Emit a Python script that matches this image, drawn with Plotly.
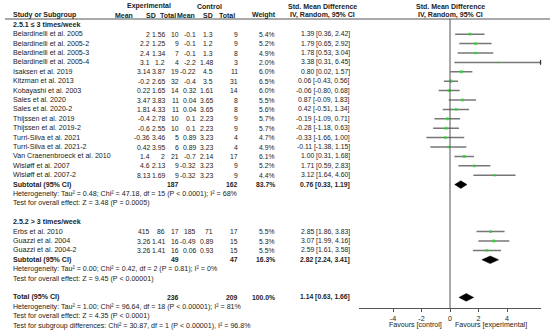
import plotly.graph_objects as go

W, H = 550, 336

# ---------------- data ----------------
g1_names = ["Belardinelli et al. 2005", "Belardinelli et al. 2005-2", "Belardinelli et al. 2005-3",
            "Belardinelli et al. 2005-4", "Isaksen et al. 2019", "Kitzman et al. 2013",
            "Kobayashi et al. 2003", "Sales et al. 2020", "Sales et al. 2020-2", "Thijssen et al. 2019",
            "Thijssen et al. 2019-2", "Turri-Silva et al. 2021", "Turri-Silva et al. 2021-2",
            "Van Craenenbroeck et al. 2010", "Wisløff et al. 2007", "Wisløff et al. 2007-2"]
g1_exp_mean = ["2", "2.2", "2.4", "3.1", "3.14", "-0.2", "0.22", "3.47", "1.81", "-0.4", "-0.6", "-0.36", "0.42", "1.4", "4.6", "8.13"]
g1_exp_sd = ["1.56", "1.25", "1.34", "1.2", "3.87", "2.65", "1.65", "3.83", "4.33", "2.78", "2.55", "3.46", "3.95", "2", "2.13", "1.69"]
g1_exp_n = [10, 9, 7, 4, 19, 32, 14, 11, 11, 10, 10, 5, 6, 21, 9, 9]
g1_ctl_mean = ["-0.1", "-0.1", "-0.1", "-2.2", "-0.22", "-0.4", "0.32", "0.04", "0.04", "0.1", "0.1", "0.89", "0.89", "-0.7", "-0.32", "-0.32"]
g1_ctl_sd = ["1.3", "1.2", "1.3", "1.48", "4.5", "3.5", "1.61", "3.65", "3.65", "2.23", "2.23", "3.23", "3.23", "2.14", "3.23", "3.23"]
g1_ctl_n = [9, 9, 8, 3, 11, 31, 14, 8, 8, 9, 9, 4, 4, 17, 9, 9]
g1_weight = [5.4, 5.2, 4.9, 2.0, 6.0, 6.5, 6.0, 5.5, 5.6, 5.7, 5.7, 4.7, 4.9, 6.1, 5.2, 4.4]
g1_smd = [1.39, 1.79, 1.78, 3.38, 0.80, 0.06, -0.06, 0.87, 0.42, -0.19, -0.28, -0.33, -0.11, 1.00, 1.71, 3.12]
g1_lo = [0.36, 0.65, 0.53, 0.31, 0.02, -0.43, -0.80, -0.09, -0.51, -1.09, -1.18, -1.66, -1.38, 0.31, 0.59, 1.64]
g1_hi = [2.42, 2.92, 3.04, 6.45, 1.57, 0.56, 0.68, 1.83, 1.34, 0.71, 0.63, 1.00, 1.15, 1.68, 2.83, 4.60]
g1_sub = dict(en=187, cn=162, w=83.7, smd=0.76, lo=0.33, hi=1.19)

g2_names = ["Erbs et al. 2010", "Guazzi et al. 2004", "Guazzi et al. 2004-2"]
g2_exp_mean = ["415", "3.26", "3.26"]
g2_exp_sd = ["86", "1.41", "1.41"]
g2_exp_n = [17, 16, 16]
g2_ctl_mean = ["185", "-0.49", "0.06"]
g2_ctl_sd = ["71", "0.89", "0.93"]
g2_ctl_n = [17, 15, 15]
g2_weight = [5.5, 5.3, 5.5]
g2_smd = [2.85, 3.07, 2.59]
g2_lo = [1.86, 1.99, 1.61]
g2_hi = [3.83, 4.16, 3.58]
g2_sub = dict(en=49, cn=47, w=16.3, smd=2.82, lo=2.24, hi=3.41)

total = dict(en=236, cn=209, w=100.0, smd=1.14, lo=0.63, hi=1.66)

g1_label = "2.5.1 ≤ 3 times/week"
g2_label = "2.5.2 > 3 times/week"
g1_het = ["Heterogeneity: Tau² = 0.48; Chi² = 47.18, df = 15 (P < 0.0001); I² = 68%",
          "Test for overall effect: Z = 3.48 (P = 0.0005)"]
g2_het = ["Heterogeneity: Tau² = 0.00; Chi² = 0.42, df = 2 (P = 0.81); I² = 0%",
          "Test for overall effect: Z = 9.45 (P < 0.00001)"]
tot_het = ["Heterogeneity: Tau² = 1.00; Chi² = 96.64, df = 18 (P < 0.00001); I² = 81%",
           "Test for overall effect: Z = 4.35 (P < 0.0001)",
           "Test for subgroup differences: Chi² = 30.87, df = 1 (P < 0.00001), I² = 96.8%"]

col_headers = ["Mean", "SD", "Total", "Mean", "SD", "Total", "Weight"]
tick_vals = [-4, -2, 0, 2, 4]
tick_text = ["-4", "-2", "0", "2", "4"]
XMIN, XMAX = -6.4, 6.4

# ---------------- layout helpers ----------------
ROW0, DY = 6.0, 9.4
def ry(k):
    return ROW0 + k * DY

FONT = "Liberation Sans, Arial, sans-serif"
FS = 7.1       # running text
FSN = 6.8      # numeric cells
FSH = 7.0      # bold headers
TXT = "#222222"
X_NAME = 11
C = dict(em=152, esd=167, en=181, cm=198, csd=215, cn=240, w=277, ci=352)
HDR_X = [135, 158, 178, 197, 215, 237, 278]

ann = []
def txt(x, y, s, anchor="left", bold=False, size=FS):
    ann.append(dict(x=x / W, y=y, xref="paper", yref="y",
                    text=f"<b>{s}</b>" if bold else s, showarrow=False,
                    xanchor=anchor, yanchor="middle",
                    font=dict(size=size, family=FONT, color=TXT)))

def fmt_ci(s, l, h):
    return f"{s:.2f} [{l:.2f}, {h:.2f}]"

# headers
txt(149, ry(0), "Experimental", "center", True, FSH)
txt(209, ry(0), "Control", "center", True, FSH)
txt(322, ry(0), "Std. Mean Difference", "center", True, FSH)
txt(450, ry(0), "Std. Mean Difference", "center", True, FSH)
txt(X_NAME, ry(1), "Study or Subgroup", "left", True, FSH)
for hx, lab in zip(HDR_X, col_headers):
    txt(hx, ry(1), lab, "right", True, FSH)
txt(322, ry(1), "IV, Random, 95% CI", "center", True, FSH)
txt(450, ry(1), "IV, Random, 95% CI", "center", True, FSH)

ci_x, ci_y, pt_x, pt_y, pt_s, arr_x, arr_y = [], [], [], [], [], [], []
diamonds = []

def study_rows(k0, names, em, esd, en, cm, csd, cn, w, smd, lo, hi):
    for i in range(len(names)):
        y = ry(k0 + i)
        txt(X_NAME, y, names[i])
        txt(C["em"], y, em[i], "right", size=FSN)
        txt(C["esd"], y, esd[i], "right", size=FSN)
        txt(C["en"], y, str(en[i]), "right", size=FSN)
        txt(C["cm"], y, cm[i], "right", size=FSN)
        txt(C["csd"], y, csd[i], "right", size=FSN)
        txt(C["cn"], y, str(cn[i]), "right", size=FSN)
        txt(C["w"], y, f"{w[i]:.1f}%", "right", size=FSN)
        txt(C["ci"], y, fmt_ci(smd[i], lo[i], hi[i]), "right", size=FSN)
        l = max(lo[i], XMIN)
        h = min(hi[i], XMAX)
        ci_x.extend([l, h, None]); ci_y.extend([y, y, None])
        if hi[i] > XMAX:
            arr_x.append(XMAX); arr_y.append(y)
        pt_x.append(smd[i]); pt_y.append(y); pt_s.append(1.2 + 0.3 * w[i])

def summary_row(k, label, d):
    y = ry(k)
    txt(X_NAME, y, label, "left", True)
    txt(C["en"], y, str(d["en"]), "right", True, FSN)
    txt(C["cn"], y, str(d["cn"]), "right", True, FSN)
    txt(C["w"], y, f"{d['w']:.1f}%", "right", True, FSN)
    txt(C["ci"], y, fmt_ci(d["smd"], d["lo"], d["hi"]), "right", True, FSN)
    diamonds.append((d["lo"], d["smd"], d["hi"], y))

# group 1
txt(X_NAME, ry(2), g1_label, "left", True)
study_rows(3, g1_names, g1_exp_mean, g1_exp_sd, g1_exp_n, g1_ctl_mean, g1_ctl_sd, g1_ctl_n,
           g1_weight, g1_smd, g1_lo, g1_hi)
k = 3 + len(g1_names)
summary_row(k, "Subtotal (95% CI)", g1_sub)
for j, s in enumerate(g1_het):
    txt(X_NAME, ry(k + 1 + j), s)
k = k + 1 + len(g1_het) + 1
# group 2
txt(X_NAME, ry(k), g2_label, "left", True)
study_rows(k + 1, g2_names, g2_exp_mean, g2_exp_sd, g2_exp_n, g2_ctl_mean, g2_ctl_sd, g2_ctl_n,
           g2_weight, g2_smd, g2_lo, g2_hi)
k = k + 1 + len(g2_names)
summary_row(k, "Subtotal (95% CI)", g2_sub)
for j, s in enumerate(g2_het):
    txt(X_NAME, ry(k + 1 + j), s)
k = k + 1 + len(g2_het) + 1
summary_row(k, "Total (95% CI)", total)
for j, s in enumerate(tot_het):
    txt(X_NAME, ry(k + 1 + j), s)

AXIS_Y = 308
txt(444, 325, "Favours [control]", "right")
txt(453, 325, "Favours [experimental]", "left")

fig = go.Figure()
fig.add_trace(go.Scatter(x=ci_x, y=ci_y, mode="lines", line=dict(color="#777777", width=1.5),
                         hoverinfo="skip", showlegend=False))
fig.add_trace(go.Scatter(x=pt_x, y=pt_y, mode="markers",
                         marker=dict(symbol="square", color="#22dd22", size=pt_s, line=dict(width=0)),
                         showlegend=False))
if arr_x:
    fig.add_trace(go.Scatter(x=arr_x, y=arr_y, mode="markers",
                             marker=dict(symbol="triangle-right", color="#333333", size=5),
                             showlegend=False))
for lo, s, hi, y in diamonds:
    fig.add_trace(go.Scatter(x=[lo, s, hi, s, lo], y=[y, y - 3.8, y, y + 3.8, y], mode="lines",
                             fill="toself", fillcolor="#000000", line=dict(color="#000000", width=0.5),
                             showlegend=False))

shapes = [
    dict(type="line", xref="paper", yref="y", x0=5 / W, x1=1, y0=19, y1=19,
         line=dict(color="#555555", width=1)),
    dict(type="line", xref="x", yref="y", x0=0, x1=0, y0=19, y1=AXIS_Y,
         line=dict(color="#555555", width=1)),
]

x0p = 450 + XMIN * 14.25
x1p = 450 + XMAX * 14.25
fig.update_layout(
    width=W, height=H, margin=dict(l=0, r=0, t=0, b=0),
    paper_bgcolor="white", plot_bgcolor="rgba(0,0,0,0)",
    annotations=ann, shapes=shapes,
    xaxis=dict(domain=[x0p / W, x1p / W], range=[XMIN, XMAX], anchor="free",
               position=1 - AXIS_Y / H, showline=True, linecolor="#555555", linewidth=1,
               ticks="outside", ticklen=3, tickcolor="#555555", tickvals=tick_vals,
               ticktext=tick_text, tickfont=dict(size=FS, family=FONT, color=TXT),
               showgrid=False, zeroline=False, fixedrange=True),
    yaxis=dict(domain=[0, 1], range=[H, 0], visible=False, fixedrange=True),
)
fig.write_html("out.html", config={"displayModeBar": False},
               post_script="document.body.style.margin='0px';document.body.style.overflow='hidden';")
